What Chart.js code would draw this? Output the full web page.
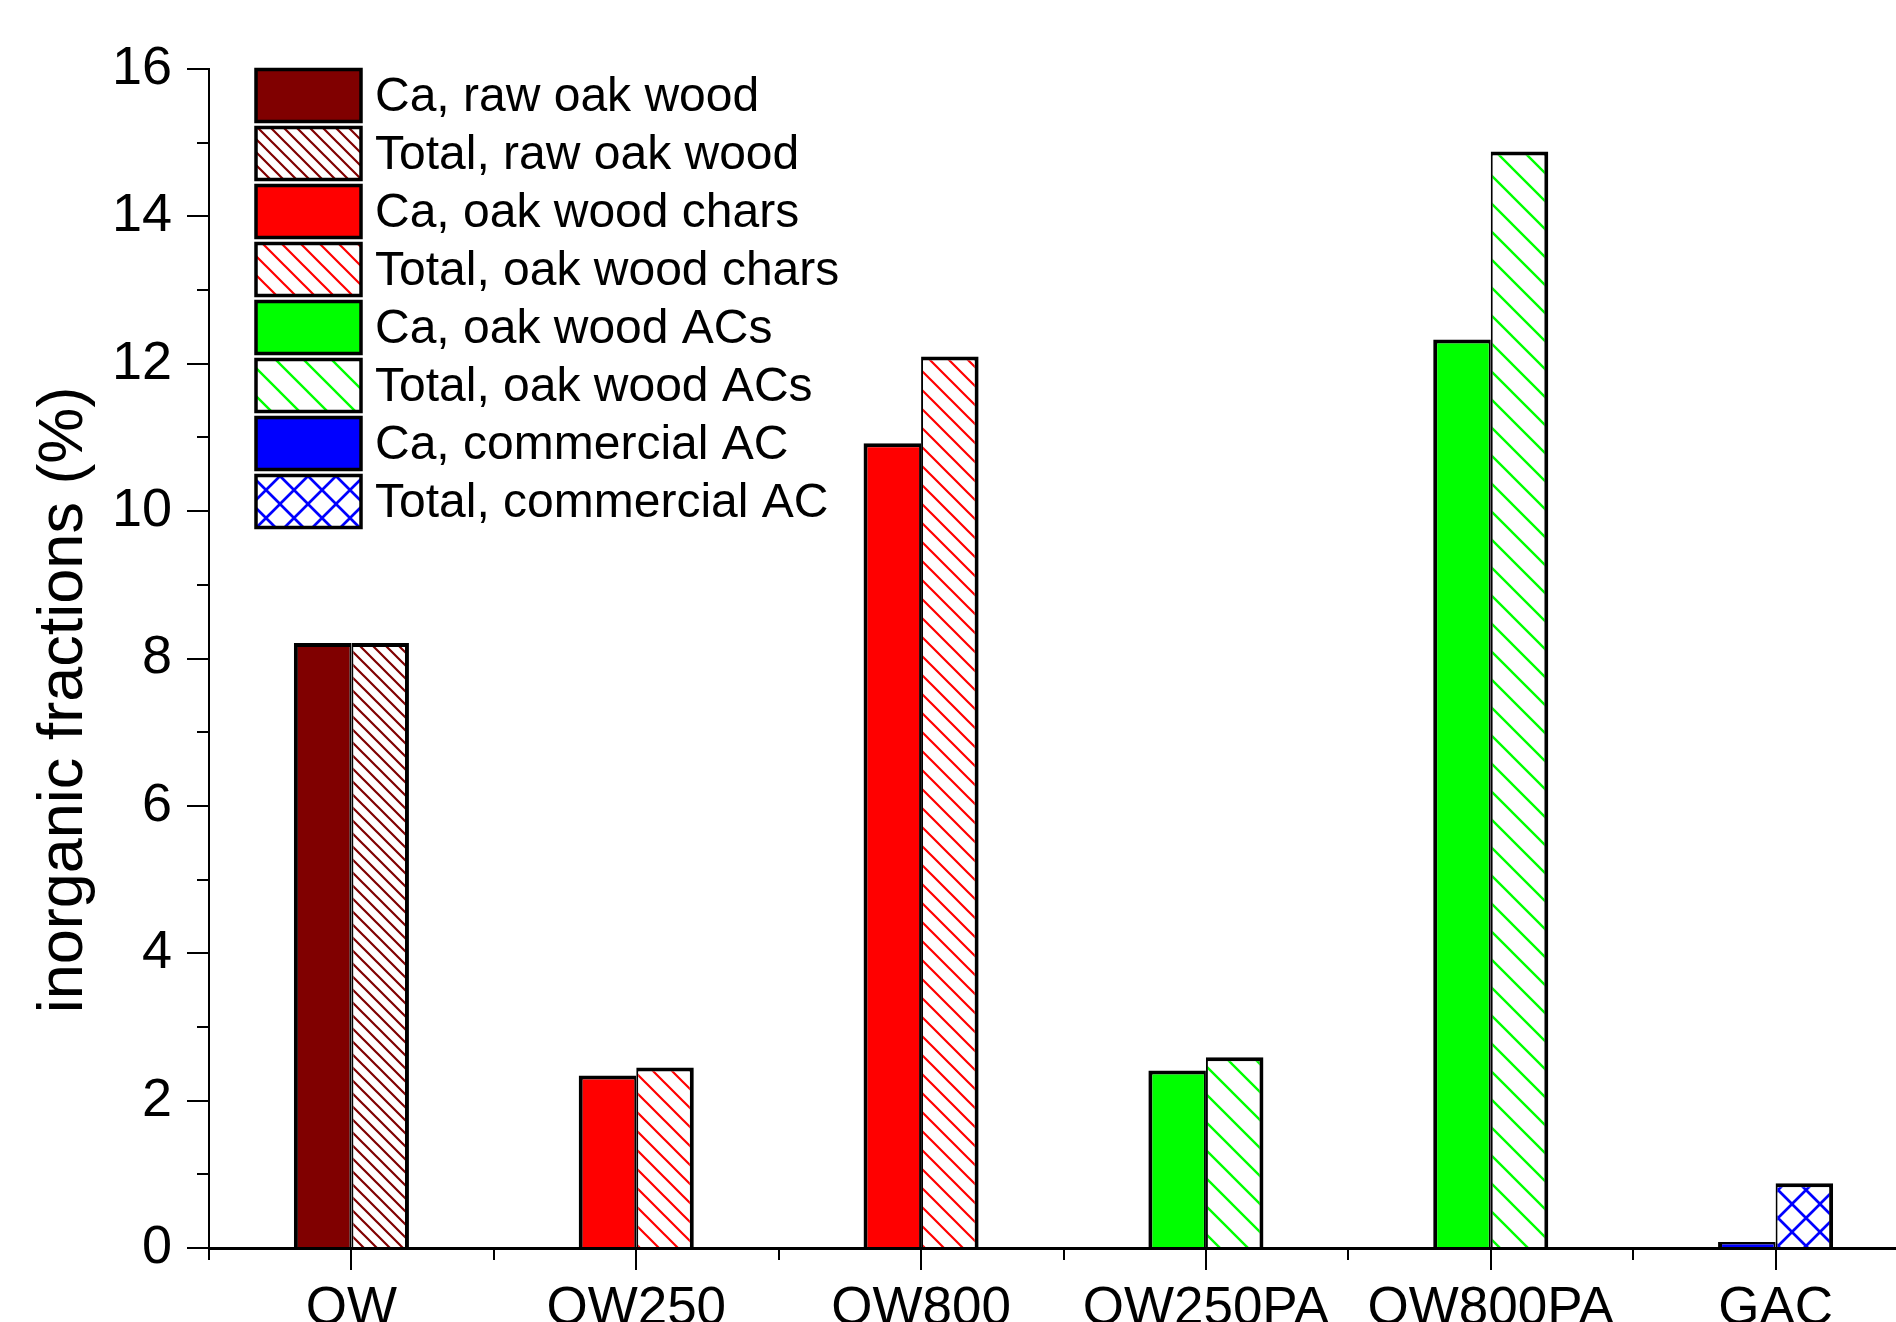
<!DOCTYPE html>
<html>
<head>
<meta charset="utf-8">
<script src="https://cdn.jsdelivr.net/npm/chart.js@4.4.1/dist/chart.umd.min.js"></script>
<style>
    html, body { margin: 0; padding: 0; background: #fff; overflow: hidden; }
    #wrap { width: 1918px; height: 1340px; }
</style>
</head>
<body>
<div id="wrap"><canvas id="inorganicChart"></canvas></div>
<script>
// Values (%)
const categories = ['OW', 'OW250', 'OW800', 'OW250PA', 'OW800PA', 'GAC'];
const caValues = [8.21, 2.34, 10.92, 2.41, 12.33, 0.08];
const totalValues = [8.21, 2.45, 12.10, 2.59, 14.88, 0.88];
const yMinorTicks = [1, 3, 5, 7, 9, 11, 13, 15];
const legendLabels = [
    'Ca, raw oak wood', 'Total, raw oak wood',
    'Ca, oak wood chars', 'Total, oak wood chars',
    'Ca, oak wood ACs', 'Total, oak wood ACs',
    'Ca, commercial AC', 'Total, commercial AC'
];

const FONT = "'Liberation Sans', Arial, sans-serif";
Chart.defaults.font.family = FONT;
Chart.defaults.color = '#000';

// Build a hatch pattern tile (lines going top-left to bottom-right, optional cross)
const makeHatch = (color, w, h, width, cross) => {
    const tile = document.createElement('canvas');
    tile.width = w;
    tile.height = h;
    const t = tile.getContext('2d');
    t.fillStyle = '#fff';
    t.fillRect(0, 0, w, h);
    t.strokeStyle = color;
    t.lineWidth = width;
    t.beginPath();
    const dx = w / h;
    for (const k of [-1, 0, 1]) {
        t.moveTo(k * w - dx, -1);
        t.lineTo(k * w + w + dx, h + 1);
        if (cross) {
            t.moveTo(k * w + w + dx, -1);
            t.lineTo(k * w - dx, h + 1);
        }
    }
    t.stroke();
    return t.createPattern(tile, 'repeat');
};

const rawHatch = makeHatch('#800000', 13, 13, 2.2, false);
const charHatch = makeHatch('#ff0000', 19, 19, 2.2, false);
const acHatch = makeHatch('#00ff00', 28, 28, 2.4, false);
const gacHatch = makeHatch('#0000ff', 28, 28, 2.7, true);

const caColors = ['#800000', '#ff0000', '#ff0000', '#00ff00', '#00ff00', '#0000ff'];
const totalFills = [rawHatch, charHatch, charHatch, acHatch, acHatch, gacHatch];
const legendFills = ['#800000', rawHatch, '#ff0000', charHatch, '#00ff00', acHatch, '#0000ff', gacHatch];

// Legend drawn as a stacked column of boxes inside the plot
const boxLegend = {
    id: 'boxLegend',
    afterDatasetsDraw(chart) {
        const ctx = chart.ctx;
        const left = chart.chartArea.left + 47;
        const top = chart.chartArea.top + 0.5;
        ctx.save();
        ctx.font = '48px ' + FONT;
        ctx.textBaseline = 'middle';
        legendLabels.forEach((text, i) => {
            const y = top + i * 58;
            ctx.fillStyle = legendFills[i];
            ctx.fillRect(left, y, 105, 52);
            ctx.lineWidth = 3.5;
            ctx.strokeStyle = '#000';
            ctx.strokeRect(left, y, 105, 52);
            ctx.fillStyle = '#000';
            ctx.fillText(text, left + 119, y + 28);
        });
        ctx.restore();
    }
};

// Minor y ticks, category centre ticks and the y title
const extraTicks = {
    id: 'extraTicks',
    afterDraw(chart) {
        const { ctx, scales: { x, y } } = chart;
        ctx.save();
        ctx.strokeStyle = '#000';
        ctx.lineWidth = 2;
        ctx.beginPath();
        categories.forEach((c, i) => {
            const px = Math.round(x.getPixelForValue(i));
            ctx.moveTo(px, y.bottom);
            ctx.lineTo(px, y.bottom + 22);
        });
        yMinorTicks.forEach(v => {
            const py = Math.round(y.getPixelForValue(v));
            ctx.moveTo(x.left - 12, py);
            ctx.lineTo(x.left, py);
        });
        ctx.stroke();

        ctx.translate(x.left - 144, 700);
        ctx.rotate(-Math.PI / 2);
        ctx.font = '63px ' + FONT;
        ctx.textAlign = 'center';
        ctx.textBaseline = 'middle';
        ctx.fillStyle = '#000';
        ctx.fillText('inorganic fractions (%)', 0, 0);
        ctx.restore();
    }
};

const ctx = document.getElementById('inorganicChart').getContext('2d');

const inorganicChart = new Chart(ctx, {
    type: 'bar',
    data: {
        labels: categories,
        datasets: [
            {
                label: 'Ca',
                data: caValues,
                backgroundColor: caColors,
                borderColor: '#000',
                borderWidth: { top: 4, left: 4, right: 2, bottom: 0 }
            },
            {
                label: 'Total',
                data: totalValues,
                backgroundColor: totalFills,
                borderColor: '#000',
                borderWidth: { top: 4, left: 2, right: 4, bottom: 0 }
            }
        ]
    },
    options: {
        responsive: true,
        maintainAspectRatio: false,
        animation: false,
        categoryPercentage: 0.404,
        barPercentage: 1.0,
        layout: {
            padding: { left: 114, top: 69, right: 0, bottom: 2 }
        },
        plugins: {
            legend: { display: false },
            tooltip: { enabled: false }
        },
        scales: {
            x: {
                afterFit: (scale) => { scale.height = 90; },
                grid: {
                    offset: true,
                    drawOnChartArea: false,
                    tickLength: 12,
                    color: '#000',
                    lineWidth: 2
                },
                border: { color: '#000', width: 3 },
                ticks: {
                    padding: 18,
                    font: { size: 53 },
                    color: '#000'
                }
            },
            y: {
                min: 0,
                max: 16,
                afterFit: (scale) => { scale.width = 95; },
                grid: {
                    drawOnChartArea: false,
                    tickLength: 22,
                    color: '#000',
                    lineWidth: 2
                },
                border: { color: '#000', width: 2 },
                ticks: {
                    stepSize: 2,
                    padding: 15,
                    font: { size: 54 },
                    color: '#000'
                }
            }
        }
    },
    plugins: [boxLegend, extraTicks]
});
</script>
</body>
</html>
